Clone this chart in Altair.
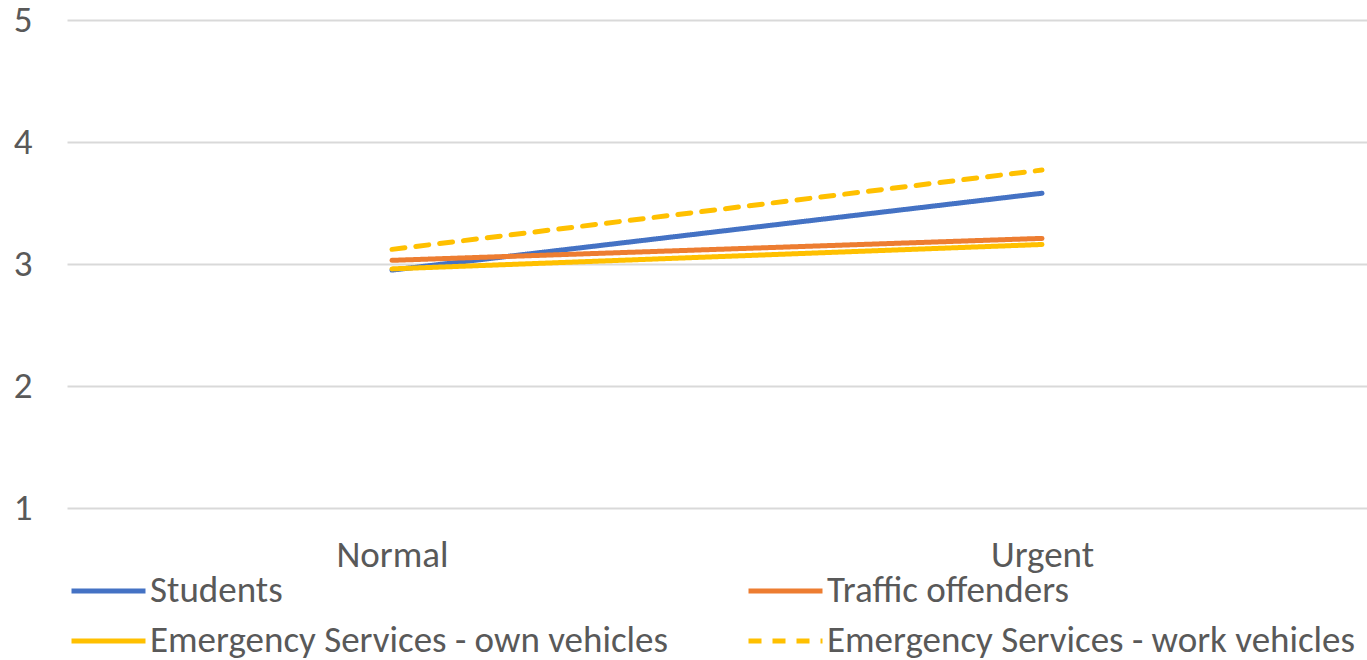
import altair as alt
import pandas as pd

# Driving condition categories (x axis)
conditions = ["Normal", "Urgent"]

# Mean rating per group for each condition
groups = [
    "Students",
    "Traffic offenders",
    "Emergency Services - own vehicles",
    "Emergency Services - work vehicles",
]
students = [2.95, 3.58]
traffic_offenders = [3.03, 3.21]
es_own_vehicles = [2.96, 3.16]
es_work_vehicles = [3.12, 3.77]

colors = ["#4472C4", "#ED7D31", "#FFC000", "#FFC000"]
dashes = [[1, 0], [1, 0], [1, 0], [13, 11]]

series_values = [students, traffic_offenders, es_own_vehicles, es_work_vehicles]
rows = []
for name, vals in zip(groups, series_values):
    for cond, v in zip(conditions, vals):
        rows.append({"group": name, "condition": cond, "rating": v})
df = pd.DataFrame(rows)

FONT = "Carlito, 'Liberation Sans Narrow', 'Liberation Sans', sans-serif"
TEXT = "#595959"

chart = (
    alt.Chart(df)
    .mark_line(strokeWidth=5, strokeCap="round")
    .encode(
        x=alt.X(
            "condition:N",
            sort=conditions,
            scale=alt.Scale(type="point", padding=0.5),
            axis=alt.Axis(
                title=None,
                labelAngle=0,
                grid=False,
                ticks=False,
                domain=False,
                labelPadding=29,
            ),
        ),
        y=alt.Y(
            "rating:Q",
            scale=alt.Scale(domain=[1, 5], nice=False, zero=False),
            axis=alt.Axis(
                title=None,
                values=[1, 2, 3, 4, 5],
                ticks=False,
                domain=False,
                labelPadding=35,
                gridColor="#D9D9D9",
                gridWidth=2,
            ),
        ),
        color=alt.Color(
            "group:N",
            sort=groups,
            scale=alt.Scale(domain=groups, range=colors),
            legend=alt.Legend(title=None),
        ),
        strokeDash=alt.StrokeDash(
            "group:N",
            sort=groups,
            scale=alt.Scale(domain=groups, range=dashes),
            legend=alt.Legend(title=None),
        ),
        order=alt.Order("condition:N"),
    )
    .properties(
        width=1300,
        height=488,
        autosize=alt.AutoSizeParams(type="none"),
        padding={"left": 67, "top": 20, "right": 0, "bottom": 152},
    )
    .configure_view(stroke=None)
    .configure_axis(labelFont=FONT, labelFontSize=37, labelColor=TEXT)
    .configure_legend(
        orient="none",
        legendX=2,
        legendY=550,
        columns=2,
        direction="horizontal",
        symbolType="M-1,0H3",
        symbolSize=1369,
        symbolStrokeWidth=5,
        labelFont=FONT,
        labelFontSize=37,
        labelColor=TEXT,
        labelOffset=39,
        columnPadding=70,
        rowPadding=11,
        labelLimit=0,
    )
)

chart.save("out.html", embed_options={"renderer": "svg", "actions": False})
